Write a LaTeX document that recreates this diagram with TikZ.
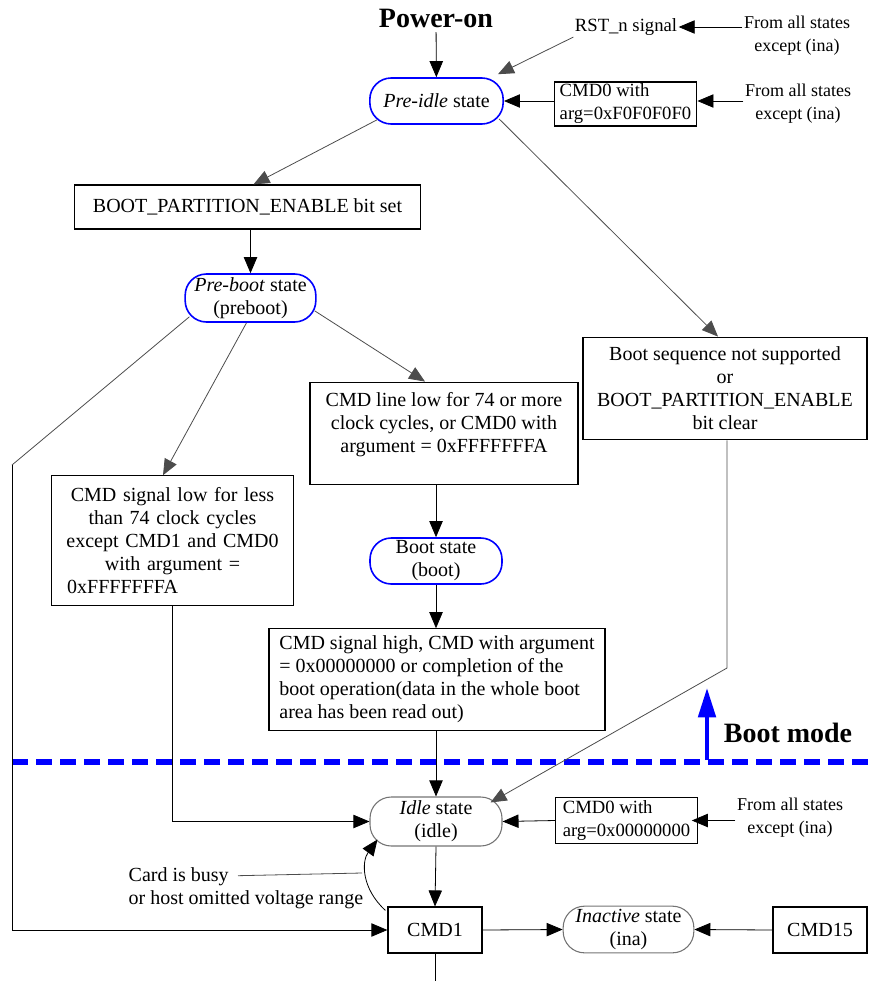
\documentclass[tikz,border=0pt]{standalone}
\usepackage{fontspec}
\setmainfont{Liberation Serif}
\usetikzlibrary{arrows.meta,calc}

\begin{document}
\begin{tikzpicture}[x=0.75pt,y=0.75pt,yscale=-1,xscale=1,
  txt/.style={font=\fontsize{15}{17.25}\selectfont},
  smalltxt/.style={font=\fontsize{14}{17.25}\selectfont},
  sidetxt/.style={font=\fontsize{13.5}{17.25}\selectfont, align=center, inner sep=1pt},
  box/.style={txt, draw, line width=0.9pt, inner sep=3pt},
  stateblue/.style={txt, draw=blue, line width=1.2pt, rounded corners=16pt, align=center, inner ysep=1pt},
  stategray/.style={stateblue, draw=black!55, line width=0.8pt},
  arrowline/.style={-{Triangle[length=12pt,width=10pt]}, line width=0.6pt},
  greyarrow/.style={arrowline, draw=black!70},
  heading/.style={font=\fontsize{21}{24}\selectfont\bfseries}
]
\useasboundingbox (0,0) rectangle (873,981);

% Shape: Boot mode boundary
\coordinate (dashstart) at (12,762);
\coordinate (dashend) at (873,762);
\draw [blue, line width=4.5pt, dash pattern=on 12pt off 6pt] (dashstart) -- (dashend);
\coordinate (modebase) at (707,760);
\coordinate (modetop) at (707,688);
\draw [blue, line width=3pt, -{Triangle[length=22pt,width=13pt]}] (modebase) -- (modetop);

% Text Nodes
\node [heading] (poweron) at (436,18) {Power-on};
\node [smalltxt, inner sep=1pt] (rstsig) at (626,27) {RST\_n signal};
\node [sidetxt] (fromrst) at (797,36) {From all states\\except (ina)};
\node [sidetxt] (fromzeroa) at (798,104) {From all states\\except (ina)};
\node [sidetxt] (fromzerob) at (790,818) {From all states\\except (ina)};
\node [heading] (bootmode) at (788,733) {Boot mode};
\node [txt, align=left, anchor=west] (cardbusy) at (124,888) {Card is busy\\or host omitted voltage range};

% Shape: States
\node [stateblue, minimum width=100pt, minimum height=34.5pt] (preidle) at (436.5,101) {\textit{Pre-idle} state};
\node [stateblue, minimum width=98pt, minimum height=36pt] (preboot) at (250.5,298) {\textit{Pre-boot} state\\(preboot)};
\node [stateblue, minimum width=99pt, minimum height=34.5pt] (boot) at (436,561) {Boot state\\(boot)};
\node [stategray, minimum width=99pt, minimum height=36.75pt] (idle) at (436,821.5) {\textit{Idle} state\\(idle)};
\node [stategray, minimum width=98pt, minimum height=35pt] (inactive) at (628.5,929.5) {\textit{Inactive} state\\(ina)};

% Shape: Rectangles
\node [box, smalltxt, align=left, inner ysep=1pt, minimum width=107pt, minimum height=33pt] (cmdzeroa) at (625.5,104) {CMD0 with\\arg=0xF0F0F0F0};
\node [box, minimum width=259pt, minimum height=33pt] (bootset) at (247.5,207) {BOOT\_PARTITION\_ENABLE bit set};
\node [box, align=center, minimum width=213pt, minimum height=77pt] (bootseq) at (725,388.5) {Boot sequence not supported\\or\\BOOT\_PARTITION\_ENABLE\\bit clear};
\node [box, align=center, minimum width=201pt, minimum height=77pt] (cmdlong) at (444,433.5) {CMD line low for 74 or more\\clock cycles, or CMD0 with\\argument = 0xFFFFFFFA\\ \mbox{}};
\node [box, text width=168pt, align=center, inner xsep=7pt, inner ysep=2pt, minimum height=97pt] (cmdshort) at (172.5,540.5) {CMD signal low for less\\than 74 clock cycles\\except CMD1 and CMD0\\with argument =\\\makebox[158pt][l]{0xFFFFFFFA}};
\node [box, align=left, minimum width=252pt, minimum height=76pt] (cmdhigh) at (437,679.5) {CMD signal high, CMD with argument\\= 0x00000000 or completion of the\\boot operation(data in the whole boot\\area has been read out)};
\node [box, smalltxt, align=left, inner ysep=1pt, minimum width=106pt, minimum height=35pt] (cmdzerob) at (626.5,820.5) {CMD0 with\\arg=0x00000000};
\node [box, minimum width=70.5pt, minimum height=34.5pt] (cmdone) at (435,930) {CMD1};
\node [box, minimum width=70.5pt, minimum height=34.5pt] (cmdfifteen) at (820,930) {CMD15};

% Straight Lines
\coordinate (leftbend) at (12,465);
\coordinate (rightbend) at (727,668);
\coordinate (busyend) at (362,873);
\coordinate (cmdonebelow) at (435,981);
\draw [arrowline] (poweron) -- (preidle);
\draw [greyarrow] (rstsig.south west) -- ($(preidle.north east)+(-6,-3)$);
\draw [arrowline] (fromrst.west |- rstsig) -- (rstsig.east);
\draw [arrowline] (cmdzeroa.west |- preidle) -- (preidle.east);
\draw [arrowline] (fromzeroa.west |- preidle) -- (cmdzeroa.east |- preidle);
\draw [greyarrow] ($(preidle.south west)+(8,-5)$) -- ($(bootset.north)+(6,0)$);
\draw [greyarrow] ($(preidle.south east)+(-5,-6)$) -- ($(bootseq.north)+(-7,0)$);
\draw [arrowline] (bootset.south -| preboot.north) -- (preboot.north);
\draw [draw=black!70, line width=0.6pt] ($(preboot.south west)+(5,-6)$) -- (leftbend);
\draw [arrowline] (leftbend) |- (cmdone.west);
\draw [greyarrow] ($(preboot.south)+(-4,0)$) -- ($(cmdshort.north)+(-9.5,0)$);
\draw [greyarrow] ($(preboot.south east)+(-2,-12)$) -- ($(cmdlong.north)+(-19,0)$);
\draw [arrowline] (cmdlong.south -| boot.north) -- (boot.north);
\draw [arrowline] (boot.south) -- (boot.south |- cmdhigh.north);
\draw [arrowline] (cmdhigh.south -| idle.north) -- (idle.north);
\draw [arrowline] (cmdshort.south) |- (idle.west);
\draw [greyarrow] (bootseq.south -| rightbend) -- (rightbend) -- ($(idle.north east)+(-12,6)$);
\draw [arrowline] (cmdzerob.west) -- (idle.east);
\draw [arrowline] (fromzerob.west |- cmdzerob) -- ($(cmdzerob.east)+(-6,0)$);
\draw [arrowline] (idle.south) -- (cmdone.north);
\draw [line width=0.6pt] (cmdone.south) -- (cmdonebelow);
\draw [arrowline] (cmdone.east) -- (inactive.west);
\draw [arrowline] (cmdfifteen.west) -- (inactive.east);
% Curve Lines
\draw [arrowline] ($(cmdone.north west)+(-2,4)$) .. controls +(-24,-22) and +(-16,22) .. ($(idle.south west)+(8,-7)$);
\draw [draw=black!70, line width=0.6pt] ($(cardbusy.north west)+(114,13)$) -- (busyend);

\end{tikzpicture}
\end{document}
